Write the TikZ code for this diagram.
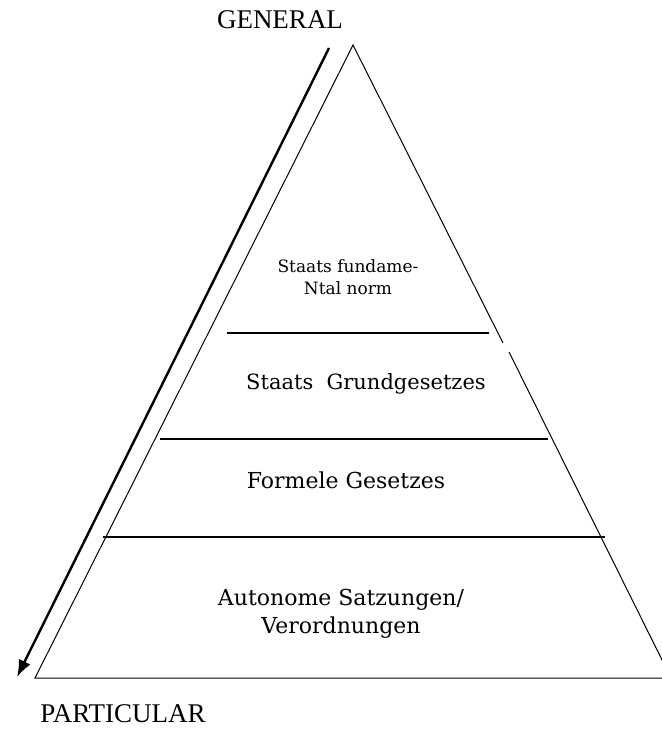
\documentclass[tikz,border=0pt]{standalone}
\usepackage{fontspec}
\setmainfont{Liberation Serif}
\newfontfamily\slabfont{DejaVu Serif}
\usepackage{tikz}
\usetikzlibrary{positioning, calc, arrows.meta}

\tikzset{
  layer/.style={line width=1.3bp},
  side/.style={line width=1bp},
  levelname/.style={font=\slabfont\fontsize{22bp}{28bp}\selectfont, align=center, inner sep=0pt},
  endname/.style={font=\fontsize{27bp}{30bp}\selectfont, inner sep=0pt}
}

\begin{document}
\begin{tikzpicture}[x=1bp, y=-1bp]
      \useasboundingbox (0,0) rectangle (662,731);
      \clip (0,0) rectangle (662,731);
      % corners of the pyramid
      \coordinate (apex) at (353,45);
      \coordinate (leftcorner) at (35,678);
      \coordinate (rightcorner) at (671,678);
      \coordinate (breaktop) at (503,343);
      \coordinate (breakbottom) at (509,352);
      \draw[side] (rightcorner) -- (leftcorner) -- (apex) -- (breaktop);
      \draw[side] (breakbottom) -- (rightcorner);
      % levels
      \draw[layer] (227,333) -- (489,333);
      \draw[layer] (160,439) -- (548,439);
      \draw[layer] (103,537) -- (605,537);
      \node[levelname, font=\slabfont\fontsize{17bp}{22bp}\selectfont] (fundamental) at (348,277) {Staats fundame-\\Ntal norm};
      \node[levelname, font=\slabfont\fontsize{21bp}{28bp}\selectfont] (grundgesetz) at (366,384) {Staats\ \ Grundgesetzes};
      \node[levelname] (formell) at (346,480) {Formele Gesetzes};
      \node[levelname] (autonom) at (341,614) {Autonome Satzungen/\\Verordnungen};
      % direction
      \node[endname] (general) at (280,20) {GENERAL};
      \node[endname] (particular) at (123,714) {PARTICULAR};
      \coordinate (arrowstart) at (329,48);
      \coordinate (arrowend) at (17,677);
      \draw[line width=2.4bp, -{Latex[length=17bp, width=13bp]}] (arrowstart) -- (arrowend);
    \end{tikzpicture}
\end{document}
